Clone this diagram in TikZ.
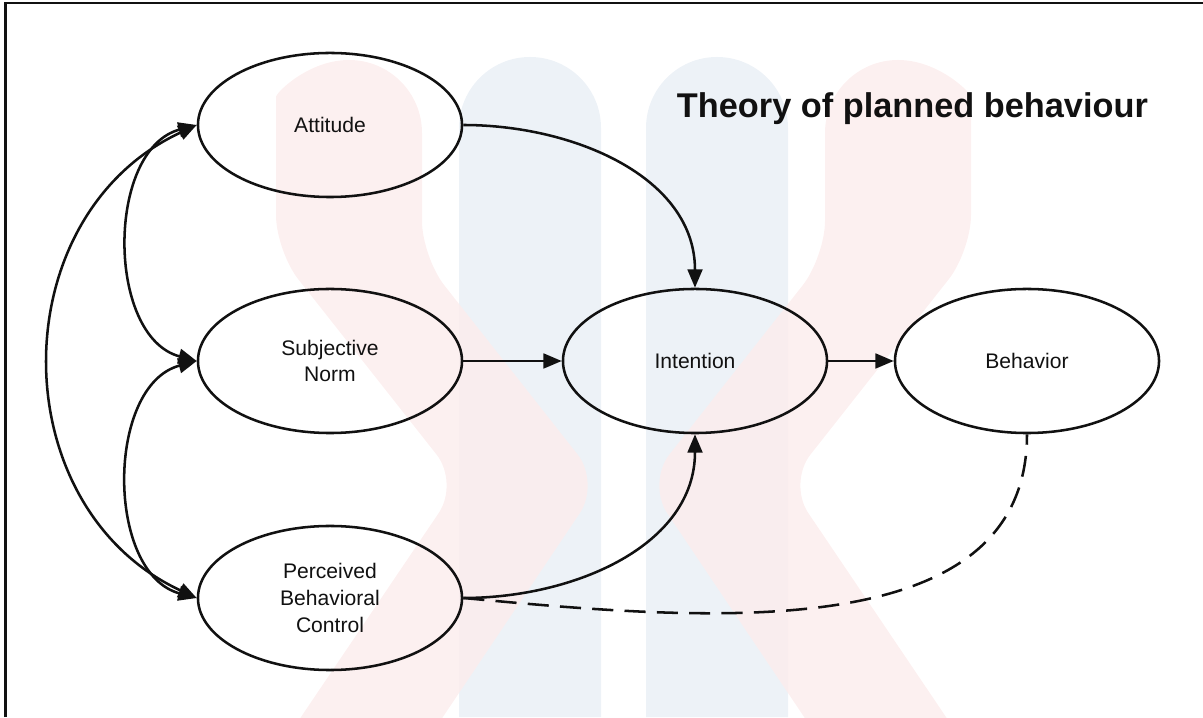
\documentclass[tikz,border=0pt]{standalone}
\usepackage{fontspec}
\setmainfont{Liberation Sans}
\usetikzlibrary{arrows.meta,shapes.geometric}
\definecolor{wmred}{HTML}{FCEDED}
\definecolor{wmblue}{HTML}{EDF2F7}
\definecolor{ink}{HTML}{111111}
\begin{document}
\begin{tikzpicture}[x=0.025cm,y=0.025cm,
  state/.style={draw=ink, line width=1.8pt, ellipse, minimum width=6.6cm,
    minimum height=3.6cm, inner sep=0pt, align=center, text=ink,
    font=\fontsize{15}{19}\selectfont},
  conn/.style={draw=ink, line width=1.8pt, -{Triangle[length=13pt,width=10.5pt]}},
  twoway/.style={draw=ink, line width=1.8pt,
    {Triangle[length=13pt,width=10.5pt]}-{Triangle[length=13pt,width=10.5pt]}},
  dashline/.style={draw=ink, line width=1.8pt, dash pattern=on 15pt off 8pt},
  wmb/.style={fill=wmblue, draw=none},
  wmr/.style={fill=wmred, fill opacity=0.85, draw=none}
]
\useasboundingbox (0,0) rectangle (1203,717);
% watermark
\fill[wmb] (459,0) -- (459,589) arc[start angle=180,end angle=0,radius=71] -- (601,0) -- cycle;
\fill[wmb] (646,0) -- (646,589) arc[start angle=180,end angle=0,radius=71] -- (788,0) -- cycle;
\fill[wmr, rounded corners=0.9cm] (274,-40) -- (459,234) -- (276,466) -- (276,584)
  [sharp corners] arc[start angle=180,end angle=0,radius=73] [rounded corners=0.9cm] -- (422,460) -- (600,234) -- (416,-40) -- cycle;
\fill[wmr, rounded corners=0.9cm] (973,-40) -- (788,234) -- (971,466) -- (971,584)
  [sharp corners] arc[start angle=0,end angle=180,radius=73] [rounded corners=0.9cm] -- (825,460) -- (647,234) -- (831,-40) -- cycle;
% frame
\draw[ink, line width=1.5pt] (5.5,0) -- (5.5,714) -- (1203,714);
% title
\node[anchor=base west, text=ink, font=\bfseries\fontsize{24.4}{28}\selectfont]
  (title) at (672,599) {Theory of planned behaviour};
% nodes
\node[state] (att) at (330,592) {Attitude};
\node[state] (sn)  at (330,356) {Subjective\\Norm};
\node[state] (pbc) at (330,119) {Perceived\\Behavioral\\Control};
\node[state] (int) at (695,356) {Intention};
\node[state] (beh) at (1027,356) {Behavior};
% connectors
\draw[conn] (att.east) to[out=0,in=90] (int.north);
\draw[conn] (sn.east) -- (int.west);
\draw[conn] (int.east) -- (beh.west);
\draw[conn] (pbc.east) to[out=0,in=-90] (int.south);
\draw[dashline] (pbc.east) .. controls (700,97) and (1027,67) .. (beh.south);
\draw[twoway] (att.west) to[out=195,in=165,looseness=1.02] (sn.west);
\draw[twoway] (sn.west) to[out=195,in=165,looseness=1.02] (pbc.west);
\draw[twoway] (att.west) to[out=205,in=155,looseness=1.17] (pbc.west);
\end{tikzpicture}
\end{document}
